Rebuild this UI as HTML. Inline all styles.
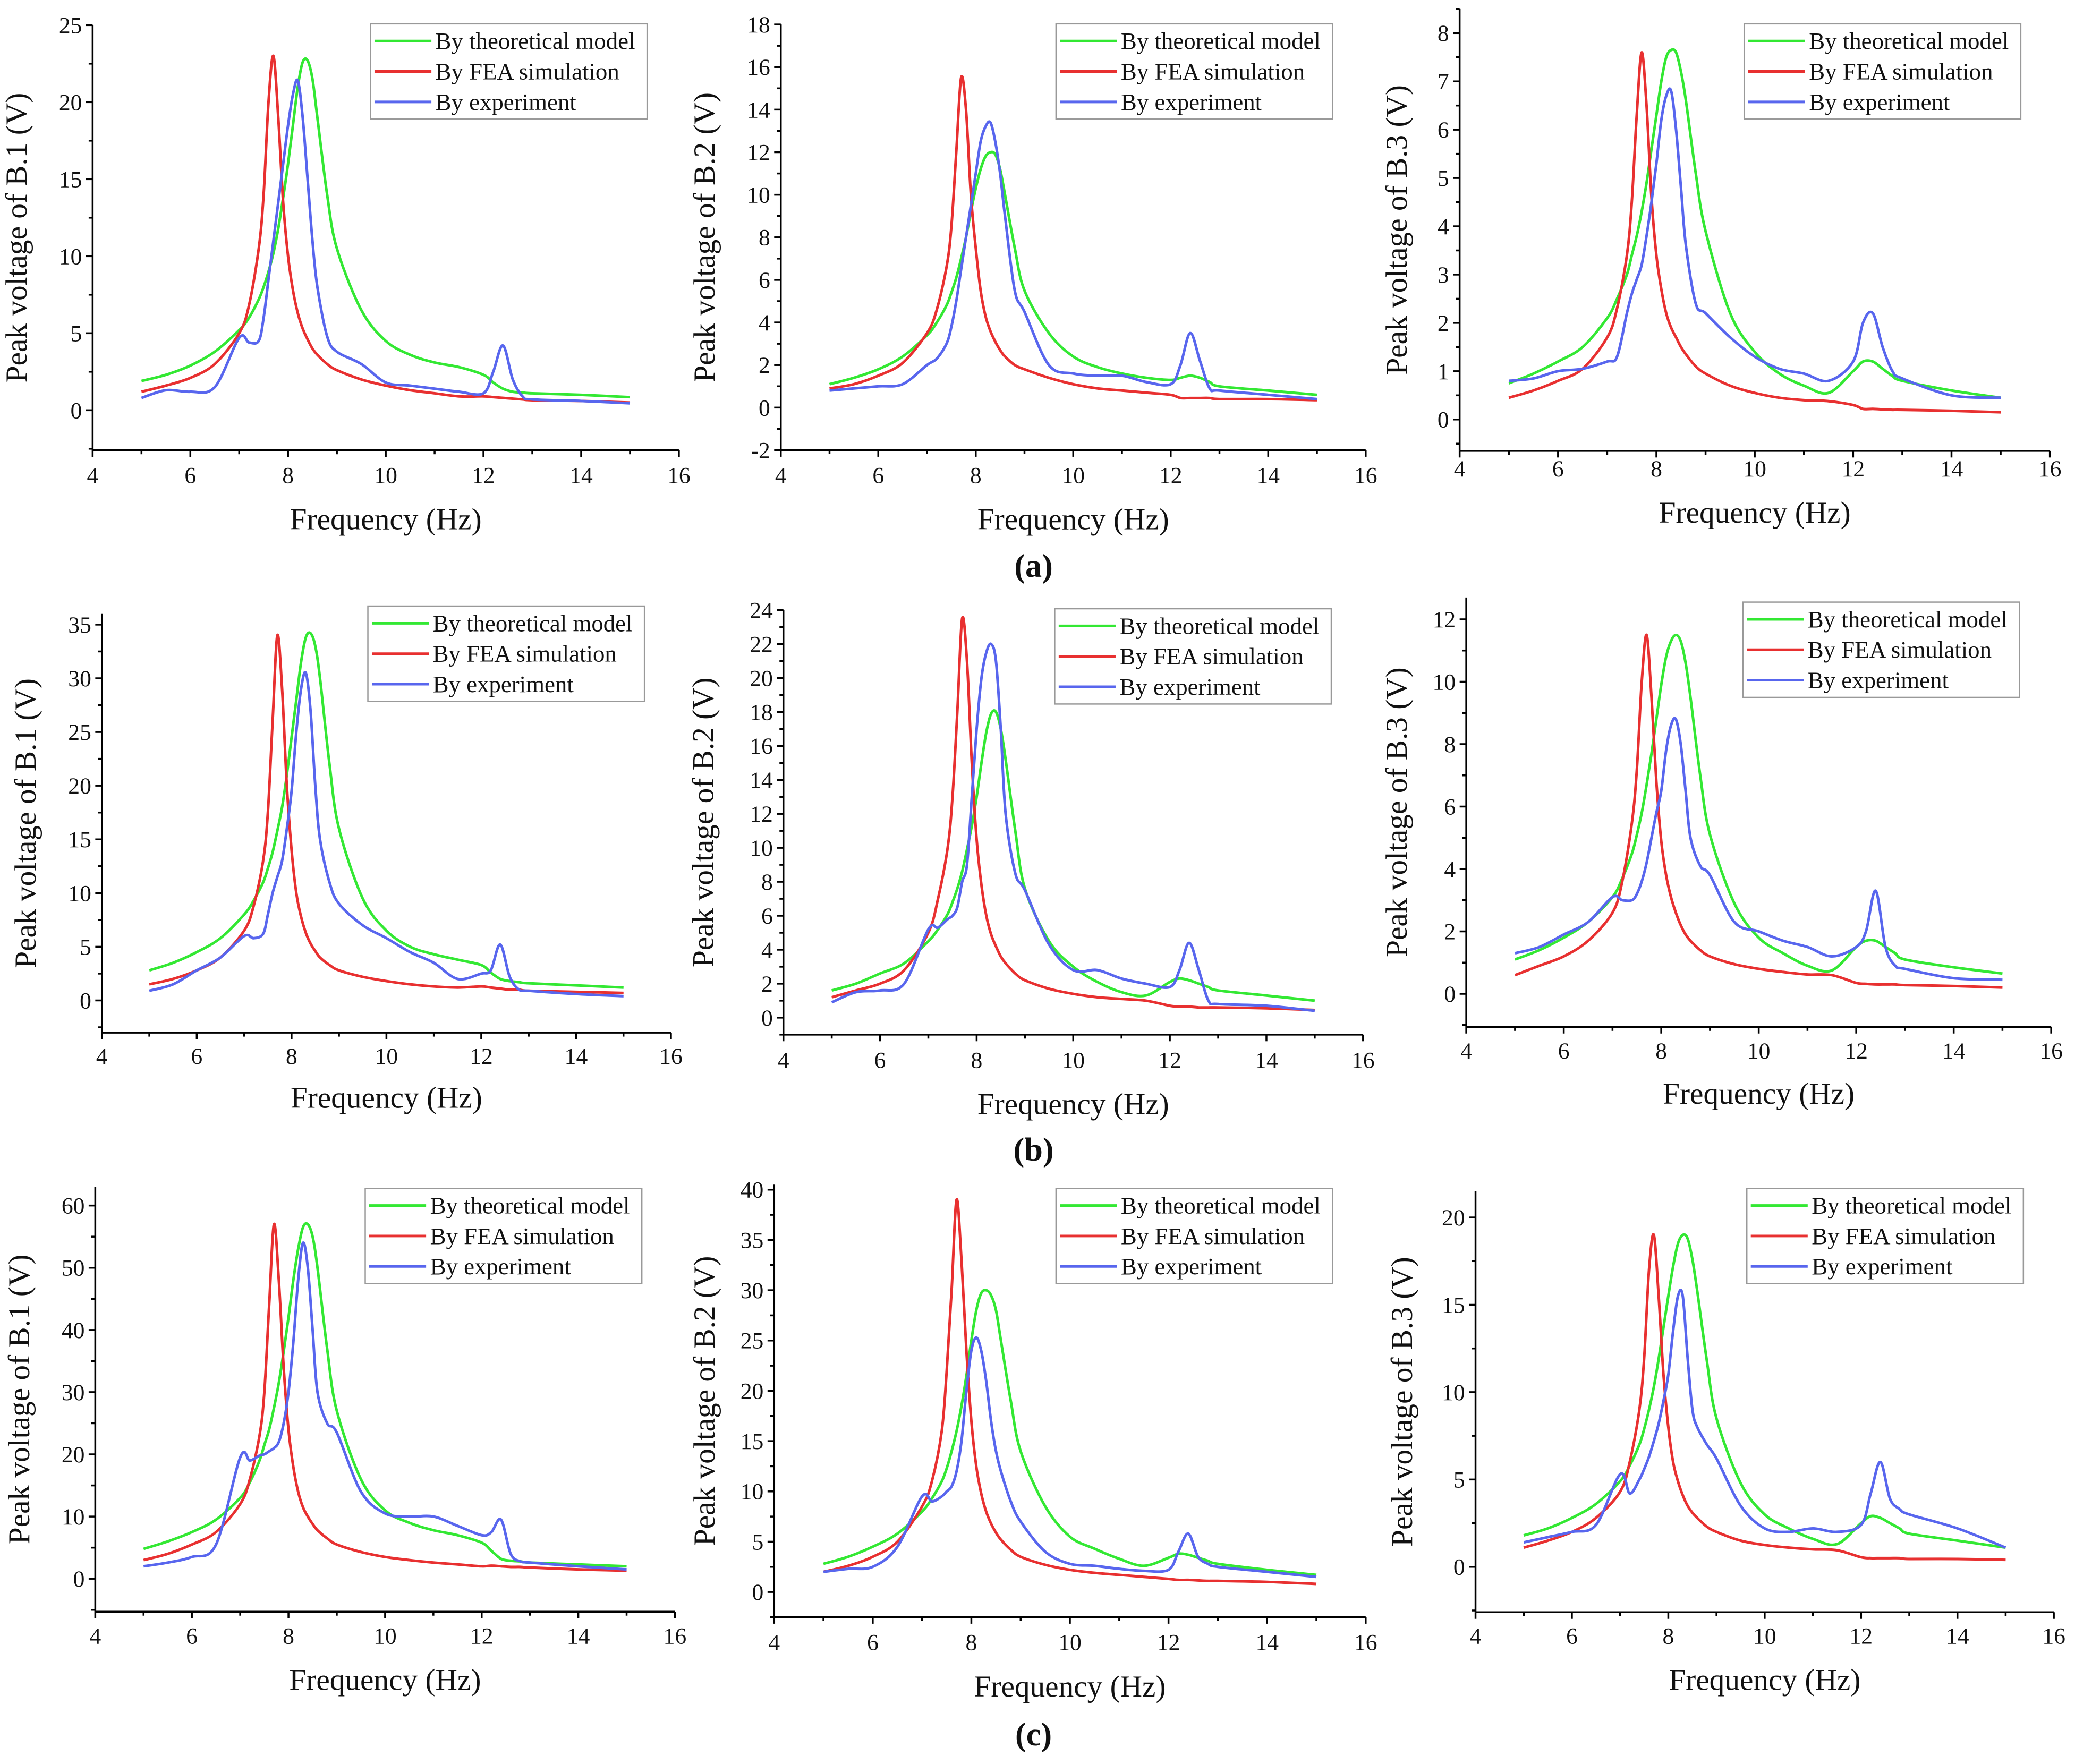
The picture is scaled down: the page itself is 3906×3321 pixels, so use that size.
<!DOCTYPE html>
<html><head><meta charset="utf-8"><style>
html,body{margin:0;padding:0;background:#fff;}
svg{display:block;}
text{font-family:"Liberation Serif","DejaVu Serif",serif;fill:#111;}
</style></head>
<body>
<svg id="fig" width="3906" height="3321" viewBox="0 0 1568 1333" preserveAspectRatio="none" xmlns="http://www.w3.org/2000/svg"></svg>
<script>
const freq=[5,5.5,6,6.5,7,7.2,7.4,7.5,7.6,7.7,7.8,7.9,8,8.1,8.2,8.3,8.4,8.5,8.6,8.8,9,9.5,10,10.5,11,11.5,12,12.2,12.4,12.6,12.8,13,14,15];
const seriesNames=["By theoretical model","By FEA simulation","By experiment"];
const xTicks=[4,6,8,10,12,14,16];

const a1Theory=[1.9,2.3,2.9,3.8,5.2,6.0,7.2,8.0,9.0,10.2,11.8,13.8,16,18.5,21,22.6,22.7,21.5,19,14,10.5,6.5,4.5,3.6,3.1,2.8,2.3,1.8,1.4,1.2,1.15,1.1,1.0,0.85];
const a1Fea=[1.2,1.6,2.1,3.0,5.0,6.8,10.5,14,20,23,19,13.5,10,7.8,6.3,5.3,4.6,4.0,3.6,3.0,2.6,2.0,1.6,1.3,1.1,0.9,0.9,0.85,0.8,0.75,0.7,0.65,0.6,0.5];
const a1Exp=[0.8,1.3,1.2,1.5,4.7,4.4,4.5,6,8.5,11,13.5,16,18.5,20.5,21.4,19,15,11,8,4.8,3.8,3.0,1.8,1.6,1.4,1.2,1.1,2.5,4.2,2.0,0.9,0.7,0.6,0.45];

const a2Theory=[1.1,1.4,1.8,2.4,3.4,4.0,4.8,5.4,6.1,7.0,8.0,9.2,10.3,11.2,11.8,12.0,11.9,11.2,10.0,7.5,5.5,3.5,2.4,1.9,1.6,1.4,1.3,1.4,1.5,1.4,1.2,1.0,0.8,0.6];
const a2Fea=[0.9,1.1,1.5,2.1,3.5,4.6,6.6,8.5,12,15.5,14,10,7.5,5.5,4.3,3.6,3.1,2.7,2.4,2.0,1.8,1.4,1.1,0.9,0.8,0.7,0.6,0.45,0.45,0.45,0.45,0.4,0.4,0.35];
const a2Exp=[0.8,0.9,1.0,1.1,2.0,2.3,3.0,3.8,5.0,6.5,8.0,9.5,11,12.5,13.2,13.4,12.5,11,9,5.5,4.5,2,1.6,1.5,1.5,1.2,1.1,2.0,3.5,2.2,0.9,0.8,0.6,0.4];

const a3Theory=[0.75,0.95,1.2,1.5,2.1,2.5,3.0,3.4,3.8,4.3,4.9,5.6,6.3,7.0,7.5,7.65,7.6,7.2,6.6,5.1,3.9,2.2,1.4,0.95,0.7,0.55,1.0,1.2,1.2,1.05,0.9,0.8,0.6,0.45];
const a3Fea=[0.45,0.6,0.8,1.05,1.7,2.3,3.4,4.5,6.3,7.6,6.5,4.6,3.4,2.7,2.2,1.9,1.7,1.5,1.35,1.1,0.95,0.7,0.55,0.45,0.4,0.38,0.3,0.22,0.22,0.21,0.2,0.2,0.18,0.15];
const a3Exp=[0.8,0.85,1.0,1.05,1.2,1.3,2.2,2.6,2.9,3.2,3.8,4.5,5.3,6.2,6.7,6.8,6.0,4.8,3.6,2.4,2.2,1.7,1.3,1.05,0.95,0.8,1.2,2.0,2.2,1.5,1.0,0.85,0.5,0.45];

const b1Theory=[2.8,3.5,4.5,5.8,8.0,9.3,11,12.3,13.8,15.8,18,21,24.5,28,31.5,33.8,34.2,33,30,22,16,9.5,6.5,5.0,4.3,3.8,3.3,2.6,2.0,1.8,1.7,1.6,1.4,1.2];
const b1Fea=[1.5,2.0,2.8,4.0,6.5,8.8,13,17.5,26,34,29,20,14,10,7.8,6.3,5.3,4.6,4.0,3.3,2.8,2.2,1.8,1.5,1.3,1.2,1.3,1.2,1.1,1.0,1.0,0.9,0.8,0.7];
const b1Exp=[0.9,1.5,2.8,4.0,6.0,5.8,6.2,8,10,11.5,13,16,19.5,25,29,30.5,27,20,15,11,9,7,5.8,4.5,3.5,2.0,2.5,2.8,5.2,2.2,1.0,0.9,0.6,0.4];

const b2Theory=[1.6,2.0,2.6,3.2,4.5,5.2,6.1,6.8,7.6,8.6,9.9,11.3,13,15,16.8,17.9,18,17,15.2,11,7.6,4.5,3.0,2.1,1.5,1.3,2.1,2.3,2.2,2.0,1.8,1.6,1.3,1.0];
const b2Fea=[1.2,1.6,2.0,2.8,5.0,7.0,10,13,18,23.5,21,15,10.5,7.8,6.0,4.9,4.2,3.6,3.2,2.6,2.2,1.7,1.4,1.2,1.1,1.0,0.7,0.65,0.65,0.6,0.6,0.6,0.55,0.45];
const b2Exp=[0.9,1.5,1.6,2.0,5.2,5.3,5.8,6.0,6.5,8,9,13,17,20,21.5,22,21,17,12,8.5,7.5,4.3,2.8,2.8,2.3,2.0,1.8,2.8,4.4,2.8,1.0,0.8,0.7,0.4];

const b3Theory=[1.1,1.4,1.8,2.3,3.1,3.7,4.5,5.1,5.8,6.7,7.7,8.8,9.9,10.8,11.3,11.5,11.3,10.6,9.5,7.0,5.1,2.9,1.8,1.3,0.9,0.75,1.5,1.7,1.7,1.5,1.3,1.1,0.85,0.65];
const b3Fea=[0.6,0.9,1.2,1.7,2.6,3.6,5.5,7.2,10,11.5,9.5,6.8,4.9,3.8,3.1,2.6,2.2,1.9,1.7,1.4,1.2,0.95,0.8,0.7,0.62,0.6,0.35,0.32,0.3,0.3,0.3,0.28,0.25,0.2];
const b3Exp=[1.3,1.5,1.9,2.3,3.1,3.0,3.0,3.2,3.6,4.2,5.0,5.8,6.5,7.8,8.6,8.8,8.0,6.5,5.0,4.1,3.8,2.3,2.0,1.7,1.5,1.2,1.5,2.0,3.3,1.5,0.9,0.8,0.5,0.45];

const c1Theory=[4.8,6,7.5,9.5,13,15.5,19,21.5,24,27.5,31.5,36.5,42,48,53,56.5,57,55,50,37,27,16,11,9,7.8,7,5.8,4.5,3.2,2.9,2.8,2.6,2.3,2.0];
const c1Fea=[3.0,4.0,5.5,7.5,12,16,23,30,44,57,48,34,24,18,14,11.5,10,8.8,7.8,6.5,5.5,4.3,3.5,3.0,2.6,2.3,2.0,2.1,2.0,1.9,1.9,1.8,1.5,1.3];
const c1Exp=[2.0,2.6,3.5,5.5,19.5,19,19.8,20,20.5,21,22,25,30,38,48,54,50,40,30,25,23.5,14,10.5,10,10,8.5,7,7.5,9.5,4,2.8,2.6,2.0,1.5];

const c2Theory=[2.8,3.5,4.5,5.8,8.0,9.3,11,12.3,14,16,18.5,21.5,25,28,29.7,30,29.5,28,25,19,14,8.5,5.5,4.3,3.3,2.6,3.4,3.8,3.7,3.4,3.1,2.8,2.2,1.7];
const c2Fea=[2.0,2.6,3.5,5.0,8.5,11,16,22,30,39,33,24,17,12.5,9.8,8.0,6.8,5.9,5.2,4.2,3.5,2.7,2.2,1.9,1.7,1.5,1.3,1.2,1.2,1.15,1.1,1.1,1.0,0.8];
const c2Exp=[2.0,2.3,2.5,4.5,9.5,9.0,9.5,10,10.5,12,15,20,24,25.3,24,21,17,14,12,9,7,4,2.8,2.6,2.3,2.1,2.2,4,5.8,3.5,2.8,2.5,2.0,1.5];

const c3Theory=[1.8,2.2,2.8,3.6,4.9,5.8,7.0,7.9,9.0,10.3,11.9,13.7,15.5,17.2,18.5,19.0,18.8,17.6,15.8,11.8,8.5,4.8,3.0,2.2,1.6,1.3,2.5,2.9,2.8,2.5,2.2,1.9,1.5,1.1];
const c3Fea=[1.1,1.5,2.0,2.8,4.3,6.0,9.0,12,17,19,15.5,11,8,6,4.9,4.1,3.5,3.1,2.8,2.3,2.0,1.5,1.25,1.1,1.0,0.95,0.55,0.5,0.5,0.5,0.5,0.45,0.45,0.4];
const c3Exp=[1.4,1.7,2.0,2.4,5.3,4.2,5.0,5.6,6.3,7.2,8.2,9.5,11,13.5,15.5,15.5,12,9,8,7,6.2,3.5,2.2,2.0,2.2,2.0,2.4,4.2,6.0,3.9,3.3,3.0,2.2,1.1];

const a1YTicks=[0,5,10,15,20,25];
const a2YTicks=[-2,0,2,4,6,8,10,12,14,16,18];
const a3YTicks=[0,1,2,3,4,5,6,7,8];
const b1YTicks=[0,5,10,15,20,25,30,35];
const b2YTicks=[0,2,4,6,8,10,12,14,16,18,20,22,24];
const b3YTicks=[0,2,4,6,8,10,12];
const c1YTicks=[0,10,20,30,40,50,60];
const c2YTicks=[0,5,10,15,20,25,30,35,40];
const c3YTicks=[0,5,10,15,20];

const charts=[
 {id:"a1",lab:"B.1",x4:70,x16:513,vA:0,pA:310,vB:25,pB:19,ymin:-2.6,ymax:25,yt:a1YTicks,minor:2.5,data:[a1Theory,a1Fea,a1Exp],leg:[280,18],tickY:365,titleY:400,ylx:20},
 {id:"a2",lab:"B.2",x4:590,x16:1032,vA:0,pA:308,vB:18,pB:18.5,ymin:-2,ymax:18,yt:a2YTicks,minor:1,data:[a2Theory,a2Fea,a2Exp],leg:[798,18],tickY:365,titleY:400,ylx:540},
 {id:"a3",lab:"B.3",x4:1103,x16:1549,vA:0,pA:317,vB:8,pB:25,ymin:-0.65,ymax:8.5,yt:a3YTicks,minor:0.5,data:[a3Theory,a3Fea,a3Exp],leg:[1318,18],tickY:360,titleY:395,ylx:1063},
 {id:"b1",lab:"B.1",x4:77,x16:507,vA:0,pA:756,vB:35,pB:472,ymin:-3,ymax:36,yt:b1YTicks,minor:2.5,data:[b1Theory,b1Fea,b1Exp],leg:[278,458],tickY:804,titleY:837,ylx:27},
 {id:"b2",lab:"B.2",x4:592,x16:1030,vA:0,pA:769,vB:24,pB:461,ymin:-1,ymax:24,yt:b2YTicks,minor:1,data:[b2Theory,b2Fea,b2Exp],leg:[797,460],tickY:807,titleY:842,ylx:539},
 {id:"b3",lab:"B.3",x4:1108,x16:1550,vA:0,pA:751,vB:12,pB:468,ymin:-1.06,ymax:12.7,yt:b3YTicks,minor:1,data:[b3Theory,b3Fea,b3Exp],leg:[1317,455],tickY:800,titleY:834,ylx:1063},
 {id:"c1",lab:"B.1",x4:72,x16:510,vA:0,pA:1193,vB:60,pB:911,ymin:-5.3,ymax:63,yt:c1YTicks,minor:5,data:[c1Theory,c1Fea,c1Exp],leg:[276,898],tickY:1242,titleY:1277,ylx:22},
 {id:"c2",lab:"B.2",x4:585,x16:1032,vA:0,pA:1203,vB:40,pB:899,ymin:-2.5,ymax:40.5,yt:c2YTicks,minor:2.5,data:[c2Theory,c2Fea,c2Exp],leg:[798,898],tickY:1247,titleY:1282,ylx:540},
 {id:"c3",lab:"B.3",x4:1115,x16:1552,vA:0,pA:1184,vB:20,pB:920,ymin:-2.6,ymax:21.5,yt:c3YTicks,minor:2.5,data:[c3Theory,c3Fea,c3Exp],leg:[1320,898],tickY:1242,titleY:1277,ylx:1067}
];
const colors=["#33e833","#e83030","#5866ee"];
const NS="http://www.w3.org/2000/svg";
const svg=document.getElementById("fig");
function mk(tag,attrs,parent){const e=document.createElementNS(NS,tag);for(const k in attrs)e.setAttribute(k,attrs[k]);(parent||svg).appendChild(e);return e;}
function smoothPath(pts){
 let d="M"+pts[0][0].toFixed(2)+","+pts[0][1].toFixed(2);
 for(let i=0;i<pts.length-1;i++){
  const p0=pts[i-1]||pts[i],p1=pts[i],p2=pts[i+1],p3=pts[i+2]||p2;
  const c1=[p1[0]+(p2[0]-p0[0])/6,p1[1]+(p2[1]-p0[1])/6];
  const c2=[p2[0]-(p3[0]-p1[0])/6,p2[1]-(p3[1]-p1[1])/6];
  d+="C"+c1.map(v=>v.toFixed(2)).join(",")+" "+c2.map(v=>v.toFixed(2)).join(",")+" "+p2[0].toFixed(2)+","+p2[1].toFixed(2);
 }
 return d;
}
charts.forEach(c=>{
 const sx=v=>c.x4+(v-4)*(c.x16-c.x4)/12;
 const sy=v=>c.pA+(v-c.vA)*(c.pB-c.pA)/(c.vB-c.vA);
 const g=mk("g",{});
 
 
 const yb=sy(c.ymin), yt=sy(c.ymax);
 c.data.forEach((arr,si)=>{
  const pts=freq.map((f,i)=>[sx(f),sy(arr[i])]);
  const p=mk("path",{d:smoothPath(pts),fill:"none",stroke:colors[si],"stroke-width":2,"stroke-linejoin":"round"},g);
  
  
 });
 const ax=mk("g",{stroke:"#000","stroke-width":1.4},g);
 
 
 mk("line",{x1:c.x4,y1:yt,x2:c.x4,y2:yb},ax);
 mk("line",{x1:c.x4,y1:yb,x2:c.x16,y2:yb},ax);
 for(let v=4;v<=16;v++){const x=sx(v);mk("line",{x1:x,y1:yb,x2:x,y2:yb+(v%2==0?5:3)},ax);}
 xTicks.forEach(v=>{const t=mk("text",{x:sx(v),y:c.tickY,"text-anchor":"middle","font-size":17.5},g);t.textContent=v;
  });
 const lo=Math.ceil(c.ymin/c.minor)*c.minor;
 for(let v=lo;v<=c.ymax+1e-6;v+=c.minor){const y=sy(v);const major=c.yt.some(t=>Math.abs(t-v)<1e-6);mk("line",{x1:c.x4,y1:y,x2:c.x4-(major?5:3),y2:y},ax);}
 c.yt.forEach(v=>{const t=mk("text",{x:c.x4-8,y:sy(v)+6,"text-anchor":"end","font-size":17.5},g);t.textContent=v;
  });
 const xt=mk("text",{x:(c.x4+c.x16)/2,y:c.titleY,"text-anchor":"middle","font-size":23},g);xt.textContent="Frequency (Hz)";
 
 const ym=(yt+yb)/2;
 const ytl=mk("text",{x:c.ylx,y:ym,"text-anchor":"middle","font-size":23,transform:"rotate(-90 "+c.ylx+" "+ym+")"},g);
 ytl.textContent="Peak voltage of "+c.lab+" (V)";
 
 const lg=mk("g",{},g);
 
 
 const [lx,ly]=c.leg;
 mk("rect",{x:lx,y:ly,width:209,height:72,fill:"#fff",stroke:"#999","stroke-width":1},lg);
 seriesNames.forEach((n,i)=>{
  const yy=ly+13+i*23;
  mk("line",{x1:lx+3,y1:yy,x2:lx+46,y2:yy,stroke:colors[i],"stroke-width":2},lg);
  const t=mk("text",{x:lx+49,y:yy+6,"font-size":18},lg);t.textContent=n;
  
 });
});
[["(a)",428],["(b)",869],["(c)",1311]].forEach(([s,y])=>{
 const t=mk("text",{x:781,y:y+8,"text-anchor":"middle","font-size":25,"font-weight":"bold"});
 t.textContent=s;
 
 
});
</script>
</body></html>
